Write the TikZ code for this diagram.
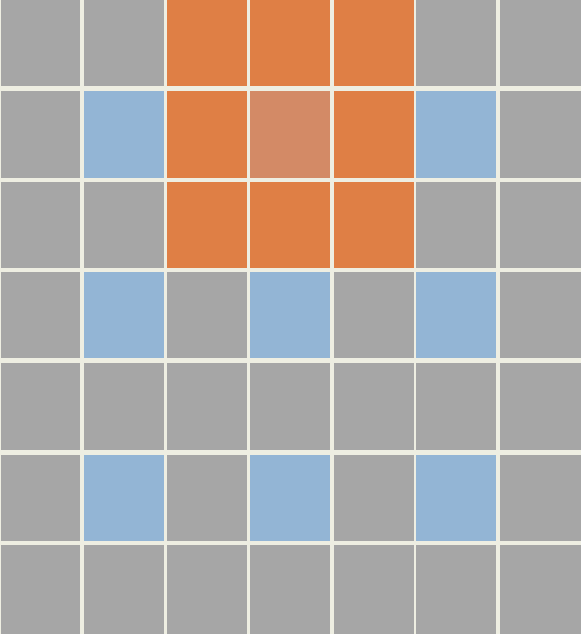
\documentclass[tikz,border=0pt]{standalone}
\definecolor{gapc}{HTML}{EEEEE2}
\definecolor{grayc}{HTML}{A6A6A6}
\definecolor{bluec}{HTML}{93B5D5}
\definecolor{orangec}{HTML}{DF7F45}
\definecolor{centerc}{HTML}{D38A66}
\begin{document}
\begin{tikzpicture}[x=1pt,y=-1pt]
\fill[gapc] (0,0) rectangle (581,634);
\useasboundingbox (0,0) rectangle (581,634);
\def\xs{{1,84,167,250,334,416,500}}
\def\xe{{80,164,247,330,414,496,581}}
\def\ys{{0,91,182,272,363,455,545}}
\def\ye{{86,178,268,358,450,541,634}}
\foreach \r in {0,...,6}{
  \foreach \c in {0,...,6}{
    \pgfmathsetmacro{\xa}{\xs[\c]}
    \pgfmathsetmacro{\xb}{\xe[\c]}
    \pgfmathsetmacro{\ya}{\ys[\r]}
    \pgfmathsetmacro{\yb}{\ye[\r]}
    \def\col{grayc}
    \ifnum\r<3 \ifnum\c>1 \ifnum\c<5 \def\col{orangec}\fi\fi\fi
    \ifnum\r=1 \ifnum\c=3 \def\col{centerc}\fi\fi
    \ifodd\r \ifodd\c \ifnum\r>2 \def\col{bluec}\else \ifnum\c=3\else\def\col{bluec}\fi\fi\fi\fi
    \fill[\col] (\xa,\ya) rectangle (\xb,\yb);
  }
}
\end{tikzpicture}
\end{document}
